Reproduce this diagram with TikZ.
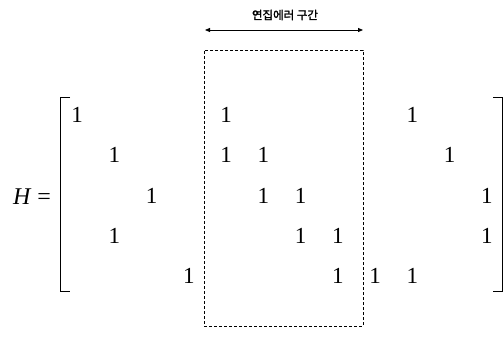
\documentclass[tikz,border=0pt]{standalone}
\usepackage{fontspec}
\setmainfont{Liberation Serif}
\newfontfamily\kofont[AutoFakeBold=2]{Noto Sans CJK KR}
\usetikzlibrary{arrows.meta}

\begin{document}
\begin{tikzpicture}[x=1pt, y=-1pt,
  entry/.style={font=\fontsize{23}{23}\selectfont, inner sep=0pt},
  brak/.style={line width=0.9pt},
  burstbox/.style={draw, densely dashed, line width=0.8pt, inner sep=0pt}]
\useasboundingbox (0,0) rectangle (504,337);

% 행렬 원소: 행/열
\foreach \r/\c in {1/1,1/5,1/10,
                   2/2,2/5,2/6,2/11,
                   3/3,3/6,3/7,3/12,
                   4/2,4/7,4/8,4/12,
                   5/4,5/8,5/9,5/10}
  \node[entry] (e\r\c) at ({77+(\c-1)*37.27}, {115+(\r-1)*40.3}) {1};

% H =
\node[font=\fontsize{24}{24}\selectfont, inner sep=0pt] (lhs) at (32,197) {\textit{H} =};

% 괄호
\draw[brak] (70,97) -- (60,97) -- (60,291) -- (70,291);
\draw[brak] (493,97) -- (502,97) -- (502,291) -- (493,291);

% 연집에러 구간
\node[burstbox, minimum width=159pt, minimum height=276pt] (burst) at (283.5,188) {};
\coordinate (aL) at (205,30);
\coordinate (aR) at (363,30);
\draw[line width=0.8pt, {Triangle[length=5pt,width=4pt]}-{Triangle[length=5pt,width=4pt]}] (aL) -- (aR);
\node[font=\kofont\bfseries\fontsize{11.5}{11.5}\selectfont] (lbl) at (285,15) {연집에러 구간};

\end{tikzpicture}
\end{document}
